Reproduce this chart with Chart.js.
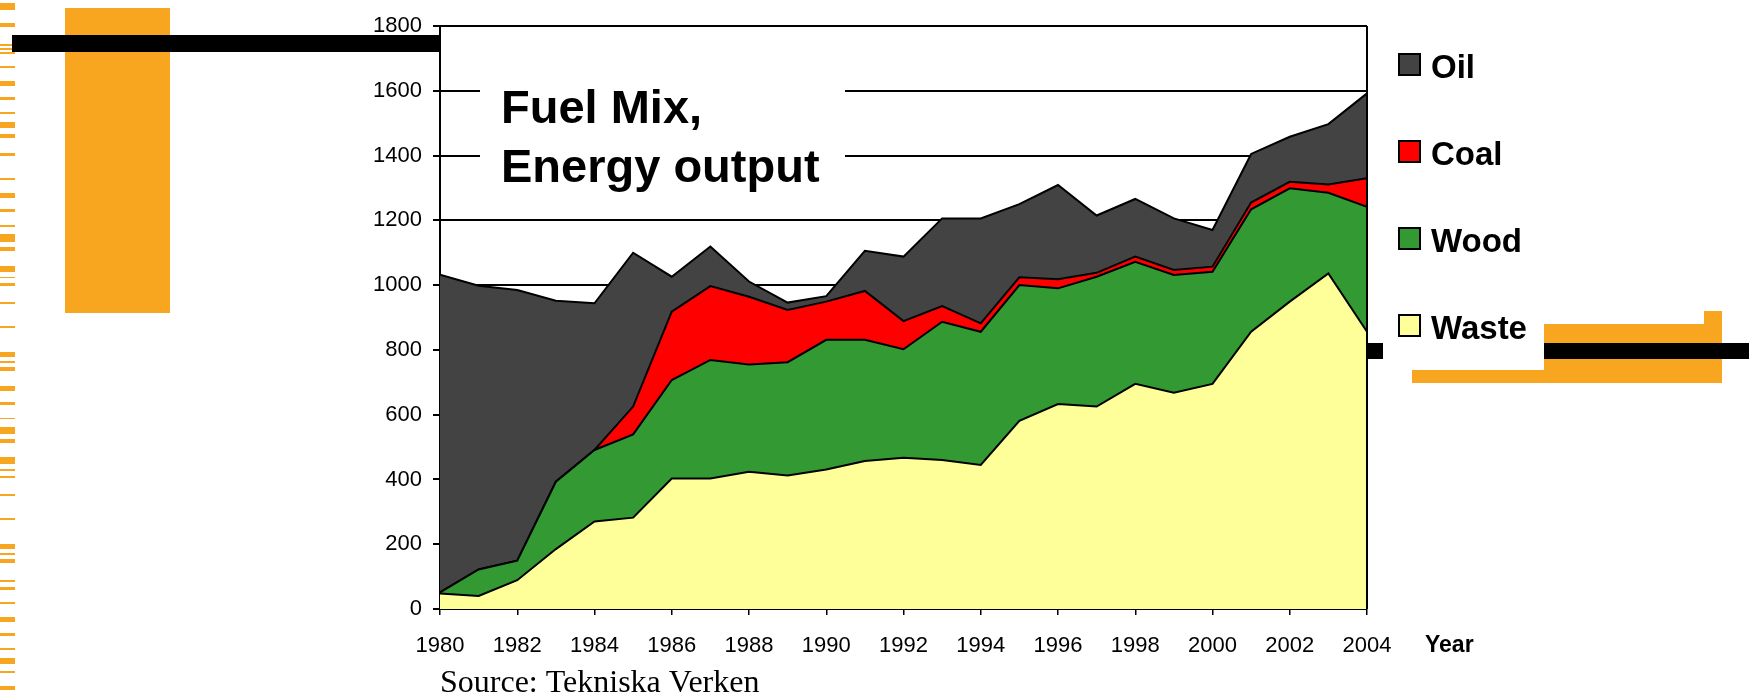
<!DOCTYPE html>
<html>
<head>
<meta charset="utf-8">
<title>Fuel Mix, Energy output</title>
<script src="https://cdn.jsdelivr.net/npm/chart.js@4/dist/chart.umd.min.js"></script>
<style>
    body { margin: 0; background: #fff; }
    canvas { display: block; }
</style>
</head>
<body>
<canvas id="chartFuelMix" width="1749" height="695"></canvas>
<script>
// values (stacked areas, GWh-ish)
var years = [1980, 1981, 1982, 1983, 1984, 1985, 1986, 1987, 1988, 1989, 1990, 1991, 1992,
             1993, 1994, 1995, 1996, 1997, 1998, 1999, 2000, 2001, 2002, 2003, 2004];
var waste = [48, 40, 89, 185, 270, 282, 403, 403, 424, 412, 431, 457, 467,
             460, 445, 581, 633, 625, 695, 668, 695, 856, 949, 1036, 856];
var wood = [3, 82, 60, 208, 221, 257, 304, 366, 331, 350, 400, 374, 335,
            427, 411, 419, 357, 401, 377, 363, 346, 378, 350, 249, 386];
var coal = [0, 0, 0, 0, 0, 86, 211, 228, 209, 161, 118, 151, 87,
            48, 26, 24, 28, 12, 16, 16, 16, 21, 20, 26, 88];
var oil = [981, 876, 836, 559, 453, 475, 108, 122, 47, 23, 17, 124, 199,
           271, 324, 226, 291, 177, 178, 159, 113, 150, 139, 186, 262];
var seriesNames = ['Waste', 'Wood', 'Coal', 'Oil'];
var yTicks = [0, 200, 400, 600, 800, 1000, 1200, 1400, 1600, 1800];
var xTicks = [1980, 1982, 1984, 1986, 1988, 1990, 1992, 1994, 1996, 1998, 2000, 2002, 2004];

var titleLines = ['Fuel Mix,', 'Energy output'];
var xTitle = 'Year';
var sourceNote = 'Source: Tekniska Verken';

// slide decoration: little orange dashes down the left edge (y, height)
var leftDashes = [
    [3, 7], [23, 4], [44, 2], [48, 2], [52, 2], [66, 2], [81, 5], [97, 3], [112, 2], [122, 6],
    [134, 4], [153, 3], [178, 2], [193, 5], [209, 3], [225, 2], [234, 8], [247, 4], [266, 6],
    [277, 1], [283, 3], [302, 2], [326, 2], [352, 5], [361, 2], [367, 4], [386, 5], [402, 3],
    [418, 1], [427, 7], [439, 4], [457, 7], [469, 2], [476, 2], [494, 2], [518, 2], [544, 5],
    [553, 2], [559, 4], [580, 2], [587, 3], [602, 2], [617, 5], [633, 3], [648, 2], [658, 6],
    [671, 2], [686, 4]
];

var orange = '#f8a51f';
var fontSans = '"Liberation Sans", Arial, sans-serif';

function points(values) {
    return years.map(function (yr, i) { return { x: yr, y: values[i] }; });
}

var decorations = {
    id: 'decorations',
    beforeDraw: function (chart) {
        var ctx = chart.ctx;
        ctx.save();
        ctx.fillStyle = '#fff';
        ctx.fillRect(0, 0, chart.width, chart.height);
        ctx.restore();
    },
    beforeDatasetsDraw: function (chart) {
        // white box behind the title cuts the grid lines
        var ctx = chart.ctx;
        ctx.save();
        ctx.fillStyle = '#fff';
        ctx.fillRect(480, 62, 365, 130);
        ctx.fillStyle = '#000';
        ctx.font = 'bold 47px ' + fontSans;
        ctx.textBaseline = 'alphabetic';
        ctx.fillText(titleLines[0], 501, 123);
        ctx.fillText(titleLines[1], 501, 182);
        ctx.restore();
    },
    afterDraw: function (chart) {
        var ctx = chart.ctx;
        var area = chart.chartArea;
        ctx.save();

        // frame on the right
        ctx.strokeStyle = '#000';
        ctx.lineWidth = 2;
        ctx.beginPath();
        ctx.moveTo(area.right, area.top);
        ctx.lineTo(area.right, area.bottom);
        ctx.stroke();

        // left side ornaments
        ctx.fillStyle = orange;
        leftDashes.forEach(function (d) { ctx.fillRect(0, d[0], 15, d[1]); });
        ctx.fillRect(65, 8, 105, 305);
        ctx.fillStyle = '#000';
        ctx.fillRect(12, 35, 428, 17);

        // right side ornaments
        ctx.fillStyle = orange;
        ctx.fillRect(1412, 370, 310, 13);
        ctx.fillRect(1544, 324, 178, 59);
        ctx.fillRect(1704, 311, 18, 14);
        ctx.fillStyle = '#000';
        ctx.fillRect(area.right, 343, 16, 16);
        ctx.fillRect(1544, 343, 205, 16);

        // legend, top entry is the last series
        var sets = chart.data.datasets.slice().reverse();
        ctx.font = 'bold 33px ' + fontSans;
        ctx.textBaseline = 'alphabetic';
        sets.forEach(function (ds, i) {
            var top = 54 + i * 87;
            ctx.fillStyle = ds.backgroundColor;
            ctx.fillRect(1399, top, 21, 21);
            ctx.strokeStyle = '#000';
            ctx.lineWidth = 2;
            ctx.strokeRect(1399, top, 21, 21);
            ctx.fillStyle = '#000';
            ctx.fillText(ds.label, 1431, top + 24);
        });

        // axis title and source
        ctx.font = 'bold 23px ' + fontSans;
        ctx.fillText(xTitle, 1425, 652);
        ctx.font = '32px "Liberation Serif", "Times New Roman", serif';
        ctx.fillText(sourceNote, 440, 692);
        ctx.restore();
    }
};

var chartFuelMix = new Chart(document.getElementById('chartFuelMix'), {
    type: 'line',
    data: {
        datasets: [{
            label: seriesNames[0],
            data: points(waste),
            backgroundColor: '#ffff99',
            fill: 'origin'
        }, {
            label: seriesNames[1],
            data: points(wood),
            backgroundColor: '#339933',
            fill: '-1'
        }, {
            label: seriesNames[2],
            data: points(coal),
            backgroundColor: '#ff0000',
            fill: '-1'
        }, {
            label: seriesNames[3],
            data: points(oil),
            backgroundColor: '#434343',
            fill: '-1'
        }]
    },
    options: {
        responsive: false,
        animation: false,
        layout: {
            padding: { left: 0, top: 26, right: 382, bottom: 0 }
        },
        elements: {
            line: { borderColor: '#000', borderWidth: 2, tension: 0 },
            point: { radius: 0, hoverRadius: 0 }
        },
        plugins: {
            legend: { display: false },
            tooltip: { enabled: false },
            title: { display: false }
        },
        scales: {
            x: {
                type: 'linear',
                min: years[0],
                max: years[years.length - 1],
                afterFit: function (scale) { scale.height = 86; },
                afterBuildTicks: function (scale) {
                    scale.ticks = xTicks.map(function (v) { return { value: v }; });
                },
                ticks: {
                    color: '#000',
                    padding: 18,
                    maxRotation: 0,
                    font: { family: fontSans, size: 22 },
                    callback: function (v) { return String(v); }
                },
                grid: {
                    drawOnChartArea: false,
                    color: '#000',
                    lineWidth: 1.5,
                    tickLength: 6
                },
                border: { color: '#000', width: 2 }
            },
            y: {
                stacked: true,
                min: 0,
                max: 1800,
                afterFit: function (scale) { scale.width = 440; },
                afterBuildTicks: function (scale) {
                    scale.ticks = yTicks.map(function (v) { return { value: v }; });
                },
                ticks: {
                    color: '#000',
                    padding: 11,
                    font: { family: fontSans, size: 22 },
                    callback: function (v) { return String(v); }
                },
                grid: {
                    color: '#000',
                    lineWidth: 2,
                    tickLength: 7
                },
                border: { color: '#000', width: 2 }
            }
        }
    },
    plugins: [decorations]
});
</script>
</body>
</html>
